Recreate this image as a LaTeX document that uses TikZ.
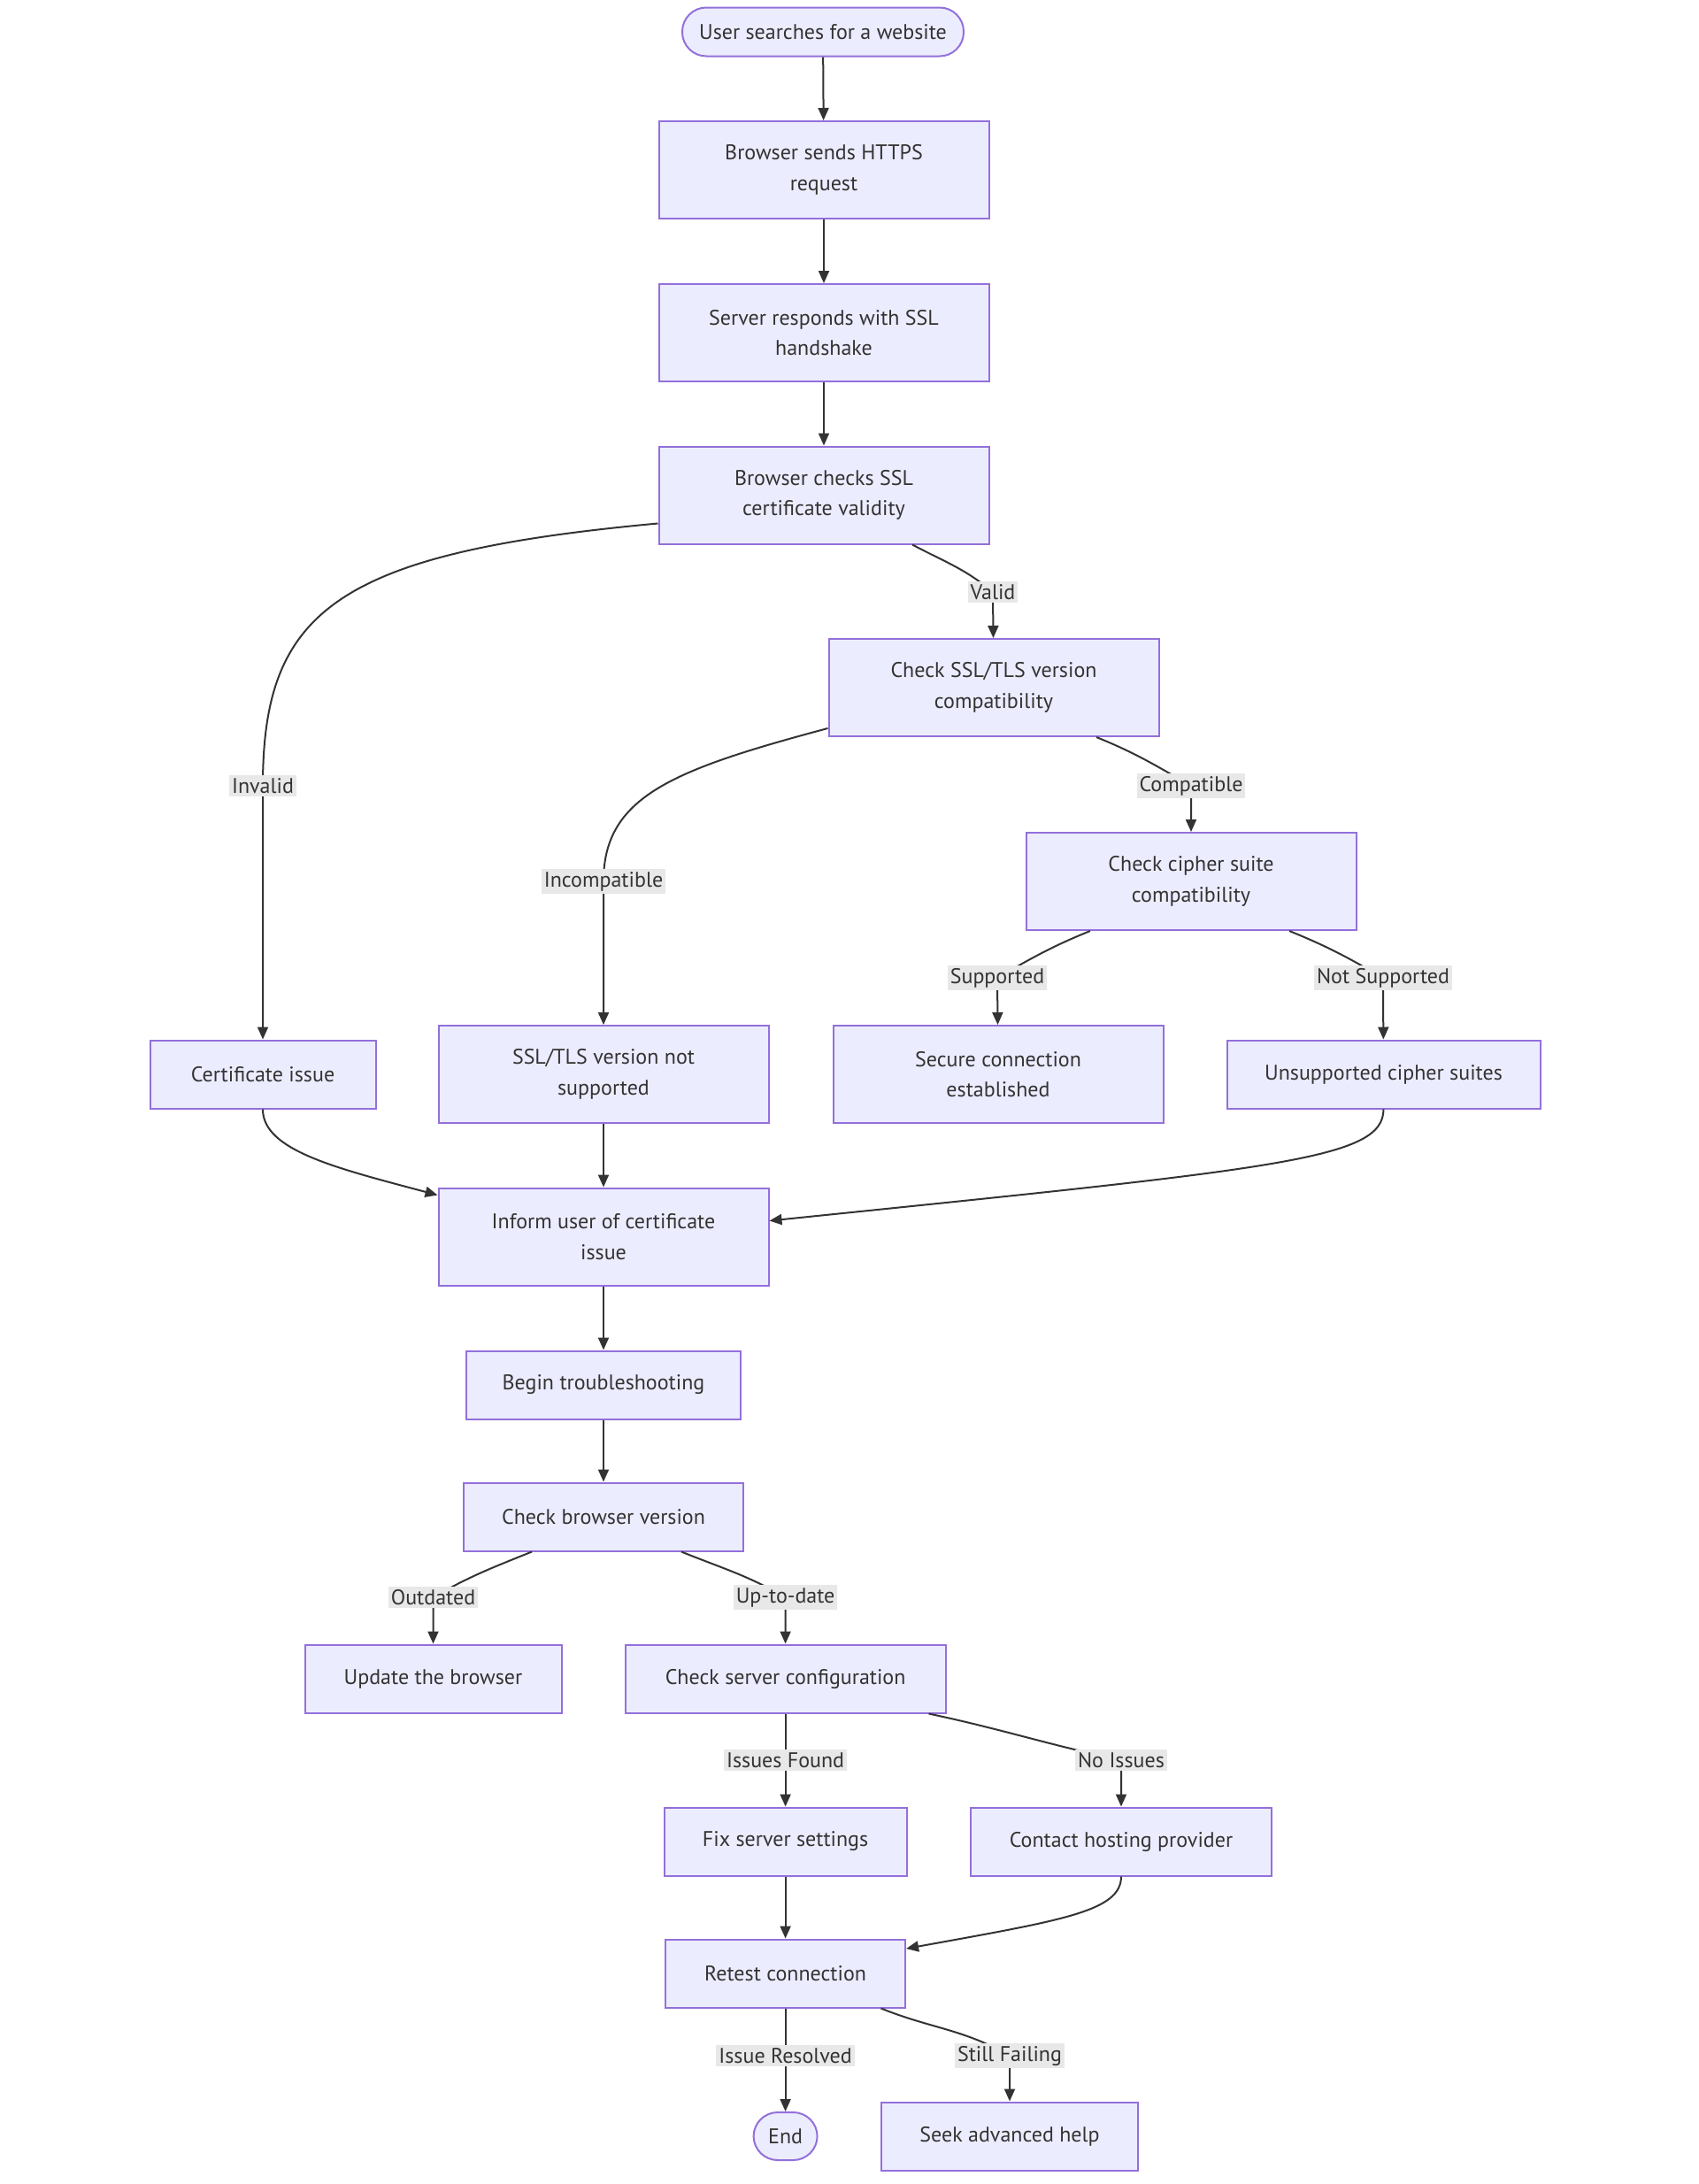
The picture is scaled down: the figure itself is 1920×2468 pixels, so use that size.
\documentclass[tikz,border=0pt]{standalone}
\usepackage{fontspec}
\setmainfont{PT Sans}
\usetikzlibrary{positioning,arrows.meta}
\definecolor{boxfill}{HTML}{ECECFF}
\definecolor{boxline}{HTML}{9370DB}
\definecolor{ink}{HTML}{333333}
\definecolor{lblfill}{HTML}{E8E8E8}
\tikzset{
  box/.style={draw=boxline, fill=boxfill, line width=1pt, text=ink, align=center,
    minimum height=38.5pt, font=\fontsize{12}{17.3}\selectfont},
  tallbox/.style={box, minimum width=186.5pt, minimum height=55pt},
  pill/.style={box, rounded corners=13.6pt, minimum height=27.5pt},
  edge/.style={draw=ink, line width=1pt, -{Triangle[length=7pt,width=6pt]}},
  lbl/.style={fill=lblfill, text=ink, inner sep=1.5pt, font=\fontsize{12}{14}\selectfont}
}

\begin{document}
\begin{tikzpicture}[x=0.5pt, y=-0.5pt]
        \useasboundingbox (0,0) rectangle (1920,2468);
        % main column
        \node[pill, minimum width=159pt] (start) at (930,36) {User searches for a website};
        \node[tallbox] (send) at (931,192) {Browser sends HTTPS\\request};
        \node[tallbox] (shake) at (931,376) {Server responds with SSL\\handshake};
        \node[tallbox] (chkcert) at (931,559.5) {Browser checks SSL\\certificate validity};
        \node[tallbox] (chkver) at (1123,777) {Check SSL/TLS version\\compatibility};
        \node[tallbox] (chkciph) at (1346,996) {Check cipher suite\\compatibility};
        % outcomes of the checks
        \node[box, minimum width=127.5pt] (certiss) at (297,1214) {Certificate issue};
        \node[tallbox] (notsup) at (682,1214) {SSL/TLS version not\\supported};
        \node[tallbox] (secure) at (1128,1214) {Secure connection\\established};
        \node[box, minimum width=177pt] (unsupp) at (1563.5,1214) {Unsupported cipher suites};
        \node[tallbox] (inform) at (682,1397.5) {Inform user of certificate\\issue};
        % troubleshooting
        \node[box, minimum width=155pt] (begin) at (682,1565) {Begin troubleshooting};
        \node[box, minimum width=158pt] (chkbrow) at (682,1714) {Check browser version};
        \node[box, minimum width=145pt] (update) at (489.5,1897) {Update the browser};
        \node[box, minimum width=181pt] (chksrv) at (887.6,1897) {Check server configuration};
        \node[box, minimum width=137pt] (fix) at (887.6,2081) {Fix server settings};
        \node[box, minimum width=170pt] (contact) at (1267,2081) {Contact hosting provider};
        \node[box, minimum width=135.5pt] (retest) at (887.6,2230) {Retest connection};
        \node[pill, minimum width=36pt, minimum height=27pt, inner xsep=2pt] (finish) at (887.6,2414) {End};
        \node[box, minimum width=145pt] (seek) at (1141,2414) {Seek advanced help};

        % label spots
        \coordinate (cValid) at (1122,669);
        \coordinate (cInvalid) at (297,888);
        \coordinate (cCompat) at (1346,888);
        \coordinate (cIncompat) at (682,996);
        \coordinate (cSupp) at (1127,1105);
        \coordinate (cNotSupp) at (1563,1105);
        \coordinate (cOut) at (489.5,1805);
        \coordinate (cUp) at (887.6,1805);
        \coordinate (cFound) at (887.6,1989);
        \coordinate (cNoIss) at (1267,1989);
        \coordinate (cRes) at (887.6,2323);
        \coordinate (cStill) at (1141,2323);

        \draw[edge] (start) -- (send);
        \draw[edge] (send) -- (shake);
        \draw[edge] (shake) -- (chkcert);
        \draw[edge] ([xshift=50pt]chkcert.south) to[out=-28,in=140] (cValid) -- (chkver);
        \draw[edge] ([yshift=-16pt]chkcert.west) .. controls (380,625) and (297,690) .. (cInvalid) -- (certiss);
        \draw[edge] ([yshift=-23pt]chkver.west) .. controls (760,870) and (682,900) .. (cIncompat) -- (notsup);
        \draw[edge] ([xshift=58pt]chkver.south) to[out=-22,in=150] (cCompat) -- (chkciph);
        \draw[edge] ([xshift=-57pt]chkciph.south) to[out=-158,in=30] (cSupp) -- (secure);
        \draw[edge] ([xshift=55.5pt]chkciph.south) to[out=-22,in=150] (cNotSupp) -- (unsupp);
        \draw[edge] (certiss.south) .. controls (297,1300) and (380,1320) .. ([yshift=23.5pt]inform.west);
        \draw[edge] (notsup) -- (inform);
        \draw[edge] (unsupp.south) .. controls (1563,1310) and (1450,1320) .. ([yshift=9pt]inform.east);
        \draw[edge] (inform) -- (begin);
        \draw[edge] (begin) -- (chkbrow);
        \draw[edge] ([xshift=-40.5pt]chkbrow.south) to[out=-158,in=30] (cOut) -- (update);
        \draw[edge] ([xshift=44pt]chkbrow.south) to[out=-22,in=150] (cUp) -- (chksrv);
        \draw[edge] (chksrv) -- (cFound) -- (fix);
        \draw[edge] ([xshift=81pt]chksrv.south) to[out=-12,in=168] (cNoIss) -- (contact);
        \draw[edge] (fix) -- (retest);
        \draw[edge] (contact.south) .. controls (1267,2160) and (1200,2170) .. ([yshift=14pt]retest.east);
        \draw[edge] (retest) -- (cRes) -- (finish);
        \draw[edge] ([xshift=54pt]retest.south) to[out=-22,in=150] (cStill) -- (seek);

        % edge labels
        \node[lbl] at (cValid) {Valid};
        \node[lbl] at (cInvalid) {Invalid};
        \node[lbl] at (cCompat) {Compatible};
        \node[lbl] at (cIncompat) {Incompatible};
        \node[lbl] at (cSupp) {Supported};
        \node[lbl] at (cNotSupp) {Not Supported};
        \node[lbl] at (cOut) {Outdated};
        \node[lbl] at (cUp) {Up-to-date};
        \node[lbl] at (cFound) {Issues Found};
        \node[lbl] at (cNoIss) {No Issues};
        \node[lbl] at (cRes) {Issue Resolved};
        \node[lbl] at (cStill) {Still Failing};
    \end{tikzpicture}
\end{document}
